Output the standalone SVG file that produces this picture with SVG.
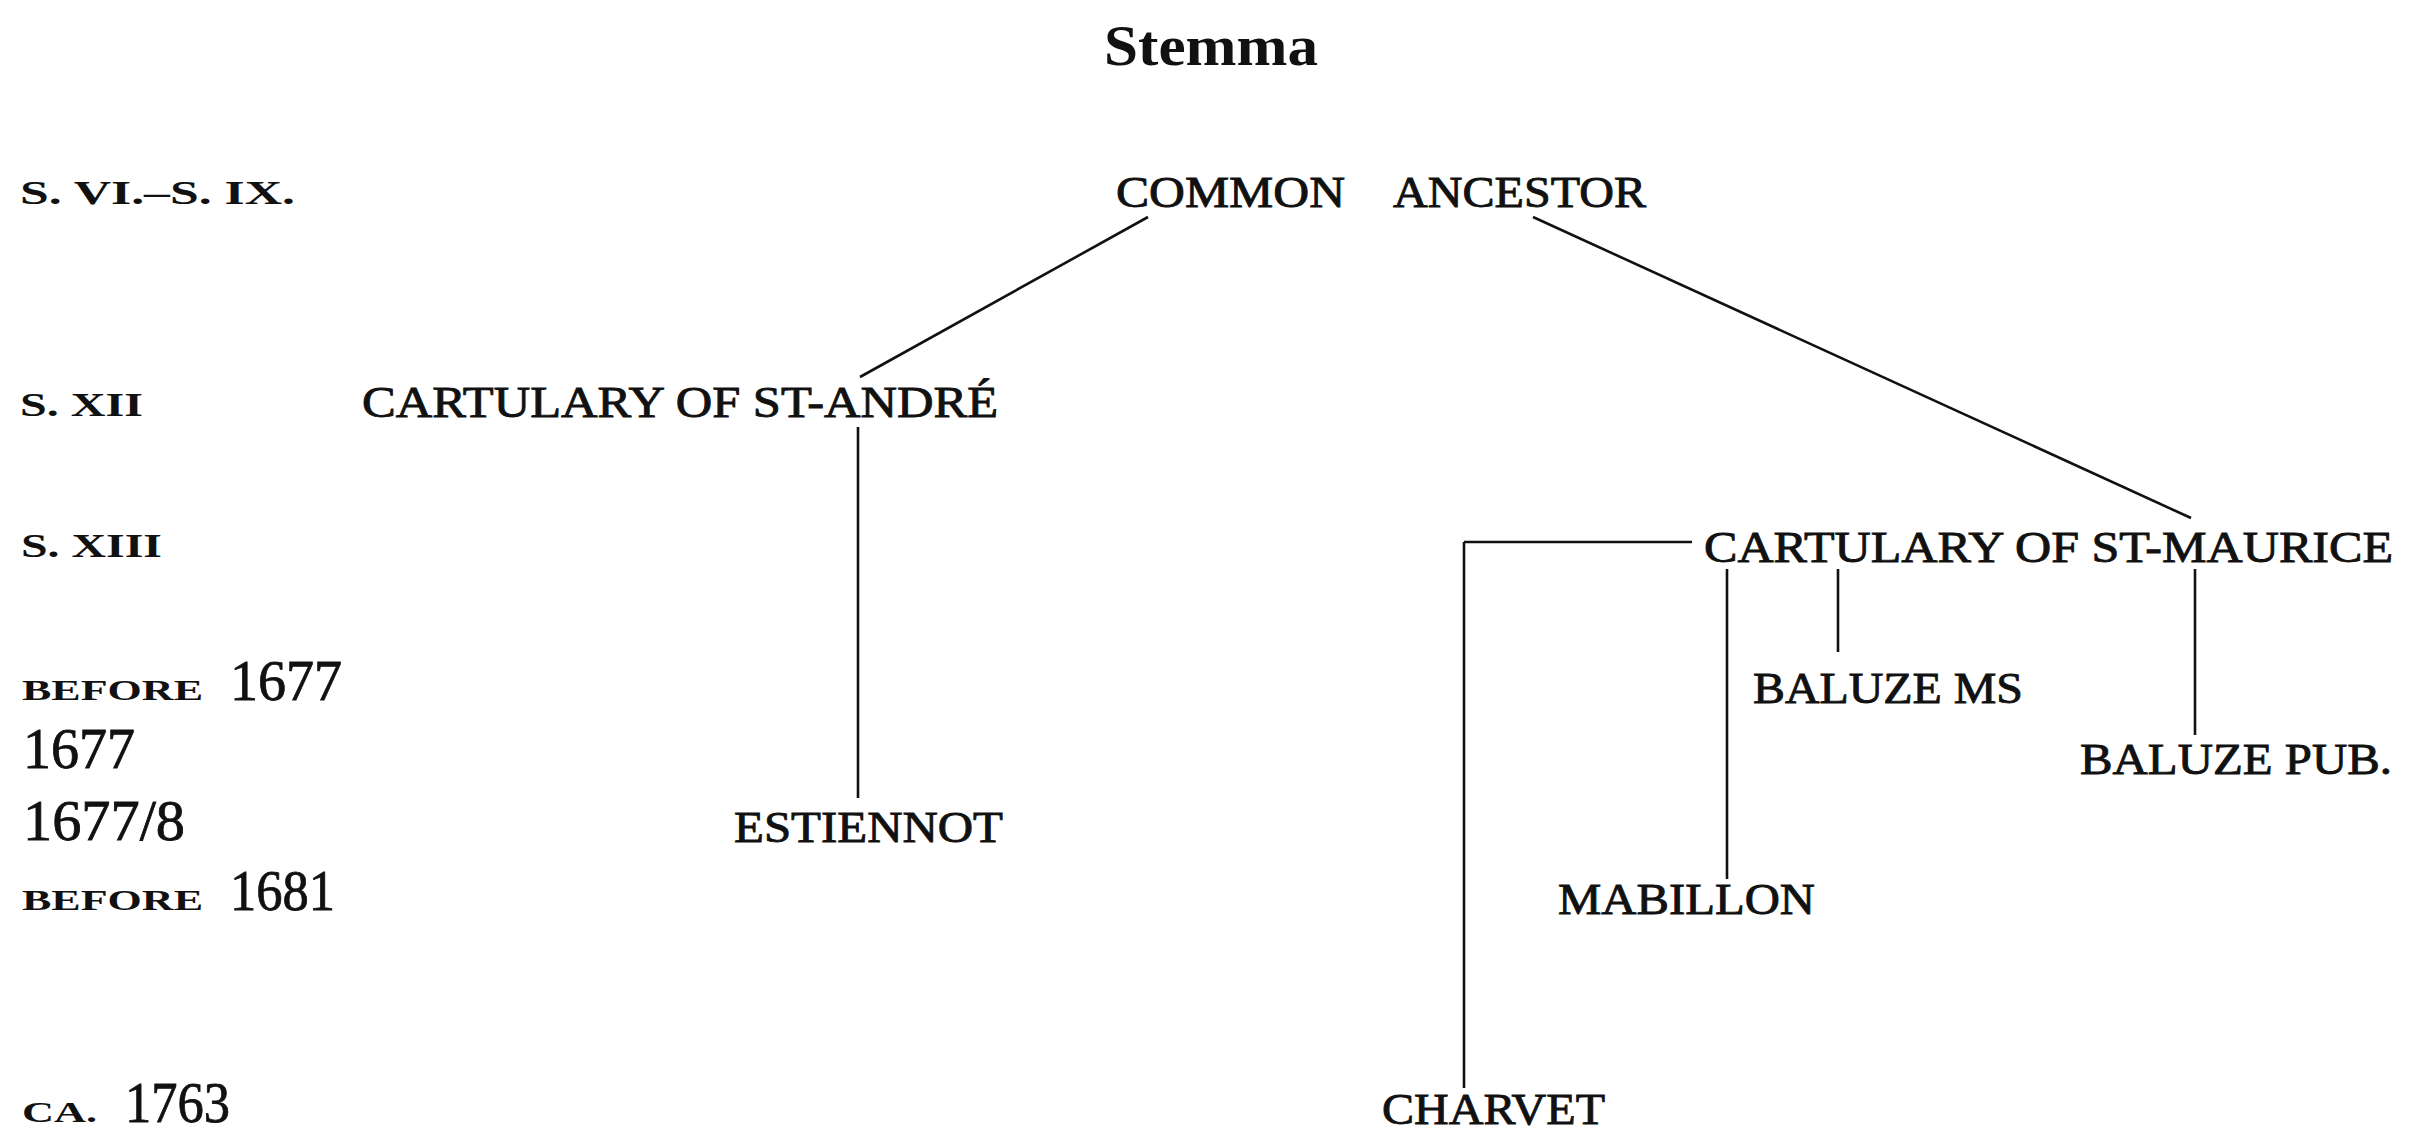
<svg xmlns="http://www.w3.org/2000/svg" width="2425" height="1133" viewBox="0 0 2425 1133">
<style>
text{font-family:"Liberation Serif","DejaVu Serif",serif;fill:#111}
.title{font-size:56px;font-weight:bold}
.node{font-size:45px;stroke:#111;stroke-width:0.9}
.era{font-size:33px;font-weight:bold}
.sc{font-size:29px;font-weight:bold}
.num{font-size:58px;stroke:#111;stroke-width:0.8}
.conn line{stroke:#111;stroke-width:2.6;fill:none}
</style>
<rect width="2425" height="1133" fill="#ffffff"/>
<text class="title" x="1104" y="65" textLength="214" lengthAdjust="spacingAndGlyphs">Stemma</text>
<g id="eras">
<text class="era" x="20" y="204" textLength="275" lengthAdjust="spacingAndGlyphs">S. VI.–S. IX.</text>
<text class="era" x="20" y="416" textLength="123" lengthAdjust="spacingAndGlyphs">S. XII</text>
<text class="era" x="21" y="557" textLength="141" lengthAdjust="spacingAndGlyphs">S. XIII</text>
<text class="sc" x="22" y="700" textLength="181" lengthAdjust="spacingAndGlyphs">BEFORE</text>
<text class="num" x="230" y="700" textLength="112" lengthAdjust="spacingAndGlyphs">1677</text>
<text class="num" x="23" y="768" textLength="112" lengthAdjust="spacingAndGlyphs">1677</text>
<text class="num" x="23" y="840" textLength="162" lengthAdjust="spacingAndGlyphs">1677/8</text>
<text class="sc" x="22" y="910" textLength="181" lengthAdjust="spacingAndGlyphs">BEFORE</text>
<text class="num" x="230" y="910" textLength="105" lengthAdjust="spacingAndGlyphs">1681</text>
<text class="sc" x="22" y="1122" textLength="75" lengthAdjust="spacingAndGlyphs">CA.</text>
<text class="num" x="125" y="1122" textLength="105" lengthAdjust="spacingAndGlyphs">1763</text>
</g>
<g id="connectors" class="conn">
<line x1="1148" y1="217" x2="860" y2="377"/>
<line x1="1533" y1="217" x2="2191" y2="518"/>
<line x1="858" y1="427" x2="858" y2="798"/>
<line x1="1464" y1="542" x2="1692" y2="542"/>
<line x1="1464" y1="542" x2="1464" y2="1088"/>
<line x1="1727" y1="569" x2="1727" y2="879"/>
<line x1="1838" y1="569" x2="1838" y2="652"/>
<line x1="2195" y1="569" x2="2195" y2="735"/>
</g>
<g id="common-ancestor">
<text class="node" x="1116" y="207" textLength="229" lengthAdjust="spacingAndGlyphs">COMMON</text>
<text class="node" x="1393" y="207" textLength="253" lengthAdjust="spacingAndGlyphs">ANCESTOR</text>
</g>
<g id="st-andre"><text class="node" x="362" y="417" textLength="636" lengthAdjust="spacingAndGlyphs">CARTULARY OF ST-ANDRÉ</text></g>
<g id="st-maurice"><text class="node" x="1704" y="562" textLength="689" lengthAdjust="spacingAndGlyphs">CARTULARY OF ST-MAURICE</text></g>
<g id="estiennot"><text class="node" x="734" y="842" textLength="269" lengthAdjust="spacingAndGlyphs">ESTIENNOT</text></g>
<g id="baluze-ms"><text class="node" x="1753" y="703" textLength="270" lengthAdjust="spacingAndGlyphs">BALUZE MS</text></g>
<g id="baluze-pub"><text class="node" x="2080" y="774" textLength="312" lengthAdjust="spacingAndGlyphs">BALUZE PUB.</text></g>
<g id="mabillon"><text class="node" x="1558" y="914" textLength="257" lengthAdjust="spacingAndGlyphs">MABILLON</text></g>
<g id="charvet"><text class="node" x="1382" y="1124" textLength="223" lengthAdjust="spacingAndGlyphs">CHARVET</text></g>
</svg>
